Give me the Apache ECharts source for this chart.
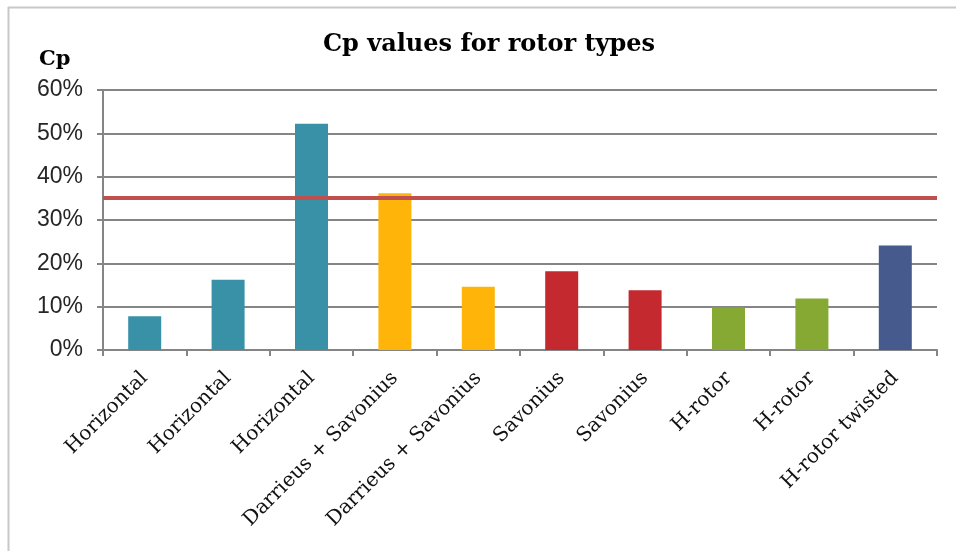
<!DOCTYPE html>
<html>
<head>
<meta charset="utf-8">
<title>Cp values for rotor types</title>
<script src="https://cdn.jsdelivr.net/npm/echarts@6/dist/echarts.min.js"></script>
<style>
  html, body { margin: 0; padding: 0; background: #ffffff; }
  #chart { width: 956px; height: 551px; }
</style>
</head>
<body>
<div id="chart"></div>
<script>
// Rotor types and their power coefficient (percent)
const rotorTypes = [
  'Horizontal', 'Horizontal', 'Horizontal',
  'Darrieus + Savonius', 'Darrieus + Savonius',
  'Savonius', 'Savonius',
  'H-rotor', 'H-rotor', 'H-rotor twisted'
];
const cpValues = [7.8, 16.2, 52.2, 36.2, 14.6, 18.2, 13.8, 9.8, 11.9, 24.1];
// One colour per rotor family
const barColors = [
  '#3891A7', '#3891A7', '#3891A7',
  '#FFB40A', '#FFB40A',
  '#C3292E', '#C3292E',
  '#86A933', '#86A933',
  '#475A8D'
];
// Reference level drawn across the plot
const referenceCp = 35.2;
const yTicks = { min: 0, max: 60, interval: 10 };

const chart = echarts.init(document.getElementById('chart'));

chart.setOption({
  backgroundColor: '#ffffff',
  animation: false,
  title: [
    {
      text: 'Cp values for rotor types',
      left: 484,
      top: 28,
      textAlign: 'center',
      textStyle: { fontFamily: 'DejaVu Serif', fontWeight: 'bold', fontSize: 24, color: '#000000' }
    },
    {
      text: 'Cp',
      left: 34,
      top: 44,
      textStyle: { fontFamily: 'DejaVu Serif', fontWeight: 'bold', fontSize: 21, color: '#000000' }
    }
  ],
  graphic: [
    { type: 'line', shape: { x1: 8, y1: 7.5, x2: 956, y2: 7.5 }, style: { stroke: '#C8C8C8', lineWidth: 2 } },
    { type: 'line', shape: { x1: 8.5, y1: 7, x2: 8.5, y2: 551 }, style: { stroke: '#C8C8C8', lineWidth: 2 } }
  ],
  grid: { left: 103, right: 19, top: 90, bottom: 201 },
  xAxis: {
    type: 'category',
    data: rotorTypes,
    boundaryGap: true,
    axisLine: { show: true, lineStyle: { color: '#858585', width: 2 } },
    axisTick: { show: true, length: 6, lineStyle: { color: '#858585', width: 2 } },
    axisLabel: {
      interval: 0,
      rotate: 45,
      margin: 25,
      fontFamily: 'DejaVu Serif',
      fontSize: 20,
      color: '#111111'
    }
  },
  yAxis: {
    type: 'value',
    min: yTicks.min,
    max: yTicks.max,
    interval: yTicks.interval,
    axisLine: { show: true, lineStyle: { color: '#858585', width: 2 } },
    axisTick: { show: true, length: 6, lineStyle: { color: '#858585', width: 2 } },
    splitLine: { show: true, lineStyle: { color: '#858585', width: 2 } },
    axisLabel: {
      formatter: '{value}%',
      margin: 20,
      fontFamily: 'Liberation Sans',
      fontSize: 23,
      color: '#262626'
    }
  },
  series: [
    {
      type: 'bar',
      barWidth: 33,
      data: cpValues.map((v, i) => ({ value: v, itemStyle: { color: barColors[i] } })),
      markLine: {
        silent: true,
        symbol: ['none', 'none'],
        label: { show: false },
        lineStyle: { color: '#C0504D', width: 4, type: 'solid' },
        data: [{ yAxis: referenceCp }]
      }
    }
  ]
});
</script>
</body>
</html>
